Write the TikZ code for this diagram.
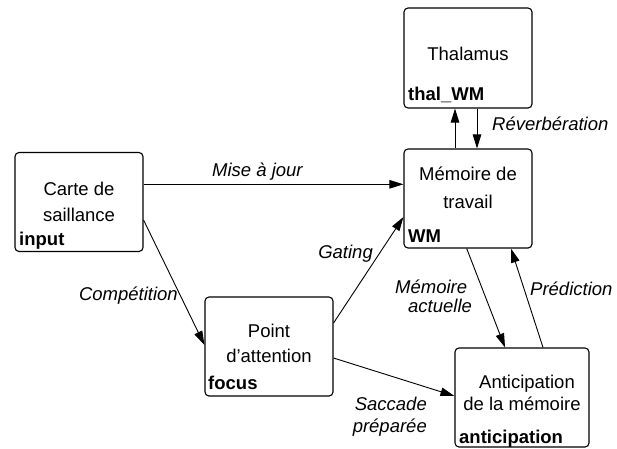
\documentclass[tikz,border=0pt]{standalone}
\usepackage{fontspec}
\setmainfont{Liberation Sans}
\usetikzlibrary{arrows.meta}
\tikzset{
  box/.style={draw, line width=1.1pt, rounded corners=4pt, minimum width=128pt, minimum height=99pt, inner sep=0pt},
  txt/.style={anchor=base, inner sep=0pt, font=\fontsize{18.5}{22}\selectfont},
  tag/.style={anchor=base west, inner sep=0pt, font=\fontsize{18.5}{22}\selectfont\bfseries},
  lab/.style={inner sep=0pt, font=\fontsize{18.5}{22}\selectfont\itshape},
  conn/.style={line width=0.9pt, -{Triangle[length=14pt,width=8.5pt]}}
}
\begin{document}
\begin{tikzpicture}[x=1pt,y=-1pt]
\useasboundingbox (0,0) rectangle (617,448);
% boxes
\node[box] (carte) at (79,202) {};
\node[box, minimum height=100pt] (thal) at (468,58) {};
\node[box] (wm) at (468,198.5) {};
\node[box] (focus) at (269,346.5) {};
\node[box, minimum width=134pt] (antic) at (522,397.5) {};
% box texts
\node[txt] (c1) at (79,195) {Carte de};
\node[txt] (c2) at (79,221) {saillance};
\node[tag] (c3) at (19,245) {input};
\node[txt] (t1) at (468,60) {Thalamus};
\node[tag] (t2) at (408,100) {thal\_WM};
\node[txt] (w1) at (468,180) {Mémoire de};
\node[txt] (w2) at (468,208) {travail};
\node[tag] (w3) at (408,242) {WM};
\node[txt] (f1) at (269,337) {Point};
\node[txt] (f2) at (269,362) {d’attention};
\node[tag] (f3) at (208,389) {focus};
\node[txt] (a1) at (527,388) {Anticipation};
\node[txt] (a2) at (522,410) {de la mémoire};
\node[tag] (a3) at (459,443) {anticipation};
% connectors
\draw[conn] ([yshift=17.7pt]carte.east) -- ([yshift=14.2pt]wm.west);
\draw[conn] ([yshift=-18pt]carte.east) -- ([yshift=1.5pt]focus.west);
\draw[conn] ([yshift=23.5pt]focus.east) -- ([yshift=-18.5pt]wm.west);
\draw[conn] ([yshift=-11.5pt]focus.east) -- ([yshift=1.5pt]antic.west);
\draw[conn] ([xshift=-1.3pt]wm.south) -- ([xshift=-17pt]antic.north);
\draw[conn] ([xshift=21pt]antic.north) -- ([xshift=43pt]wm.south);
\draw[conn] ([xshift=-13pt]wm.north) -- ([xshift=-13pt]thal.south);
\draw[conn] ([xshift=9pt]thal.south) -- ([xshift=9pt]wm.north);
% connector labels
\node[lab, anchor=base west] (lmaj) at (212,176) {Mise à jour};
\node[lab, anchor=base east] (lcomp) at (178,300) {Compétition};
\node[lab, anchor=base east] (lgat) at (373,258) {Gating};
\node[lab, anchor=base west, align=left] (lmem1) at (395,293) {Mémoire};
\node[lab, anchor=base west] (lmem2) at (408,312) {actuelle};
\node[lab, anchor=base west] (lpred) at (530,295) {Prédiction};
\node[lab, anchor=base east] (lsac1) at (427,410) {Saccade};
\node[lab, anchor=base east] (lsac2) at (427,432) {préparée};
\node[lab, anchor=base west] (lrev) at (492,130) {Réverbération};
\end{tikzpicture}
\end{document}
